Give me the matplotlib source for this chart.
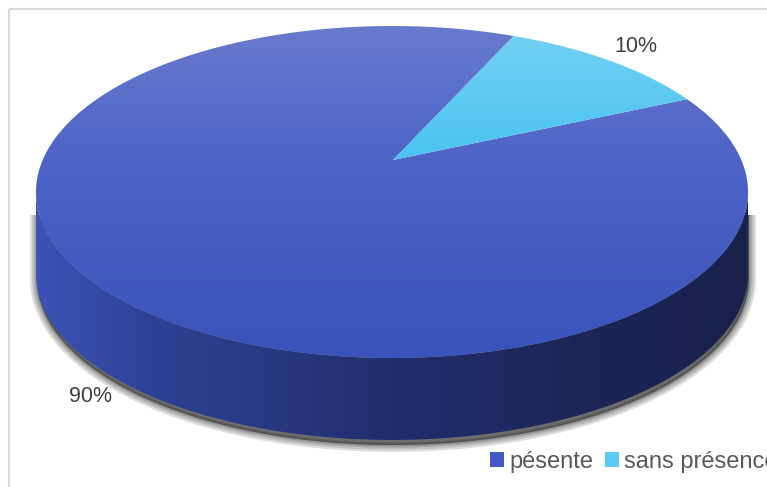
import numpy as np
import matplotlib
matplotlib.use("Agg")
import matplotlib.pyplot as plt
from matplotlib.path import Path
from matplotlib.patches import PathPatch, Rectangle, Patch
from matplotlib.colors import LinearSegmentedColormap

labels = ["pésente", "sans présence"]
values = [90, 10]
legend_colors = ["#4258c4", "#5ccbf4"]

W, H = 767, 487
fig = plt.figure(figsize=(W / 100, H / 100), dpi=100)
ax = fig.add_axes([0, 0, 1, 1])
ax.set_xlim(0, W)
ax.set_ylim(H, 0)
ax.axis("off")

plt.rcParams["font.family"] = ["Liberation Sans", "DejaVu Sans"]

# pie geometry (pixels)
cx, cy, a, b = 392, 192, 356, 166
apex = (393, 160)
depth = 82
start = 34.0


def ell(t, dy=0.0):
    return cx + a * np.cos(t), cy - b * np.sin(t) + dy


def poly(xs, ys):
    v = np.column_stack([xs, ys])
    v = np.vstack([v, v[:1]])
    codes = [Path.MOVETO] + [Path.LINETO] * (len(v) - 2) + [Path.CLOSEPOLY]
    return Path(v, codes)


def grad_fill(path, cmap, vmin, vmax, axis, z):
    patch = PathPatch(path, facecolor="none", edgecolor="none")
    ax.add_patch(patch)
    if axis == "y":
        img = np.arange(H).reshape(-1, 1).astype(float)
    else:
        img = np.arange(W).reshape(1, -1).astype(float)
    im = ax.imshow(img, cmap=cmap, vmin=vmin, vmax=vmax, extent=(0, W, H, 0),
                   origin="upper", aspect="auto", zorder=z, interpolation="bilinear")
    im.set_clip_path(patch)


# frame
ax.add_patch(Rectangle((9, 9), 820, 520, fill=False, ec="#d9d9d9", lw=1.5, zorder=0))

# silhouette + shadow (only below the rim)
t_up = np.linspace(0, np.pi, 300)
t_lo = np.linspace(np.pi, 2 * np.pi, 300)
ux, uy = ell(t_up)
lx, ly = ell(t_lo, depth)
shadow = poly(np.r_[ux, lx] + 1, np.r_[uy, ly] + 5)
clip = Rectangle((0, 215), W, H, transform=ax.transData)
for lw in [10, 7, 4, 2]:
    p = PathPatch(shadow, facecolor=(0, 0, 0, 0.13), edgecolor=(0, 0, 0, 0.13),
                  lw=lw, zorder=1, joinstyle="round")
    ax.add_patch(p)
    p.set_clip_path(clip)

# side
tx, ty = ell(t_lo)
side = poly(np.r_[tx, lx[::-1]], np.r_[ty, ly[::-1]])
side_cmap = LinearSegmentedColormap.from_list(
    "side", [(0, "#3b53b4"), (0.16, "#2f4195"), (0.5, "#212e6c"), (0.79, "#1b2556"), (1, "#18214c")])
grad_fill(side, side_cmap, 37, 748, "x", 2)

# top slices
top_cmaps = [
    LinearSegmentedColormap.from_list("b", [(0, "#6a7acd"), (0.45, "#4b61c6"), (1, "#3953bb")]),
    LinearSegmentedColormap.from_list("c", [(0, "#72d1f3"), (1, "#4ac3f1")]),
]
top_ranges = [(26, 358), (30, 160)]
total = sum(values)
th = start
for v, cm, (v0, v1) in zip(values, top_cmaps, top_ranges):
    th1 = th - 360.0 * v / total
    t = np.radians(np.linspace(th, th1, 400))
    ex, ey = ell(t)
    path = poly(np.r_[apex[0], ex], np.r_[apex[1], ey])
    grad_fill(path, cm, v0, v1, "y", 3)
    th = th1

# data labels
label_pos = [(90, 397), (636, 47)]
for v, (x, y) in zip(values, label_pos):
    ax.text(x, y, f"{v}%", fontsize=15.5, color="#404040", ha="center", va="center", zorder=5)

# legend
handles = [Patch(facecolor=c, edgecolor="none", label=l) for c, l in zip(legend_colors, labels)]
leg = ax.legend(handles=handles, ncol=2, loc="upper left", bbox_to_anchor=(490 / W, 1 - 451 / H),
                bbox_transform=fig.transFigure, frameon=False, fontsize=17,
                handlelength=0.6, handleheight=0.6, handletextpad=0.21, columnspacing=0.5,
                borderpad=0, borderaxespad=0)
for txt in leg.get_texts():
    txt.set_color("#595959")

fig.savefig("out.png", dpi=100)
